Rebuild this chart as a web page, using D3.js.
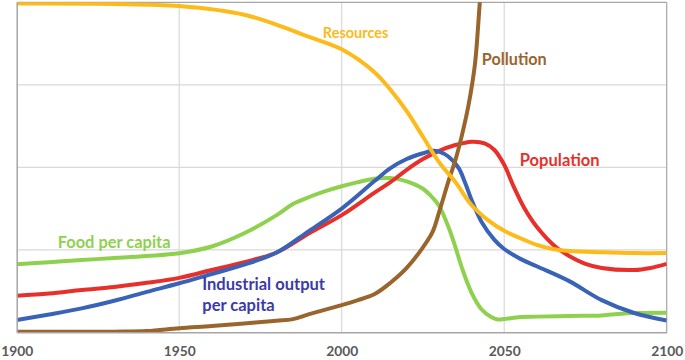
<!DOCTYPE html>
<html>
<head>
<meta charset="utf-8">
<script src="https://cdn.jsdelivr.net/npm/d3@7"></script>
<style>
  html, body { margin: 0; padding: 0; background: #fff; }
  svg { display: block; }
  text { font-family: Lato, "Open Sans", sans-serif; font-weight: bold; }
</style>
</head>
<body>
<svg id="chart" width="685" height="360"></svg>
<script>
// ---- data ----
const xTicks = [1900, 1950, 2000, 2050, 2100];
const yGrid = [0, 1, 2, 3, 4];

const resources = [
  [1900, 3.985], [1930, 3.98], [1950, 3.955], [1970, 3.85], [1982, 3.70],
  [1990, 3.58], [2000, 3.43], [2010, 3.155], [2015, 2.94], [2020, 2.68],
  [2025, 2.37], [2030, 2.06], [2035, 1.82], [2040, 1.54], [2045, 1.36],
  [2050, 1.23], [2055, 1.14], [2060, 1.06], [2065, 1.01], [2070, 0.985],
  [2080, 0.97], [2090, 0.96], [2100, 0.96]
];
const pollution = [
  [1900, 0.007], [1930, 0.008], [1940, 0.015], [1950, 0.05], [1960, 0.076], [1970, 0.107],
  [1980, 0.14], [1985, 0.16], [1990, 0.22], [2000, 0.33], [2005, 0.39],
  [2010, 0.46], [2015, 0.60], [2020, 0.78], [2025, 1.03], [2028, 1.22],
  [2030, 1.46], [2033, 1.85], [2035, 2.09], [2037, 2.39], [2039, 2.75],
  [2041, 3.25], [2042.5, 4.0], [2044, 4.7]
];
const population = [
  [1900, 0.444], [1910, 0.47], [1920, 0.513], [1930, 0.55], [1940, 0.60],
  [1950, 0.66], [1960, 0.755], [1970, 0.85], [1980, 0.967], [1990, 1.20],
  [2000, 1.42], [2010, 1.69], [2015, 1.82], [2020, 1.97], [2025, 2.10],
  [2030, 2.20], [2035, 2.27], [2040, 2.31], [2044, 2.29], [2047, 2.21],
  [2050, 2.03], [2053, 1.76], [2056, 1.52], [2060, 1.28], [2066, 1.03],
  [2070, 0.925], [2075, 0.83], [2080, 0.78], [2090, 0.755], [2095, 0.78],
  [2100, 0.83]
];
const industrial = [
  [1900, 0.149], [1910, 0.216], [1920, 0.29], [1930, 0.383], [1940, 0.49],
  [1950, 0.594], [1960, 0.707], [1970, 0.82], [1980, 0.967], [1990, 1.23],
  [2000, 1.50], [2010, 1.83], [2015, 1.99], [2020, 2.10], [2025, 2.17],
  [2028, 2.20], [2030, 2.19], [2033, 2.125], [2036, 1.99], [2038, 1.81],
  [2040, 1.60], [2043, 1.34], [2047, 1.12], [2050, 1.01], [2055, 0.89],
  [2060, 0.80], [2070, 0.62], [2080, 0.39], [2090, 0.234], [2100, 0.143]
];
const food = [
  [1900, 0.824], [1910, 0.85], [1920, 0.876], [1930, 0.90], [1940, 0.925],
  [1950, 0.958], [1960, 1.04], [1970, 1.20], [1980, 1.42], [1985, 1.555],
  [1990, 1.64], [1995, 1.71], [2000, 1.77], [2005, 1.82], [2010, 1.86],
  [2015, 1.87], [2020, 1.83], [2025, 1.74], [2028, 1.63], [2030, 1.53],
  [2033, 1.26], [2035, 1.03], [2037, 0.78], [2040, 0.476], [2043, 0.28],
  [2046, 0.185], [2048, 0.155], [2050, 0.16], [2055, 0.185], [2060, 0.19],
  [2070, 0.198], [2080, 0.204], [2085, 0.222], [2090, 0.234], [2100, 0.238]
];

const seriesNames = ["Food per capita", "Population", "Industrial output per capita", "Pollution", "Resources"];
const seriesData = [food, population, industrial, pollution, resources];
const seriesColors = ["#8fd14f", "#e8302a", "#3a63b8", "#9a652c", "#fcbb1a"];

// labels
const labelTexts = [["Resources"], ["Pollution"], ["Population"], ["Food per capita"], ["Industrial output", "per capita"]];
const labelYears = [1994.2, 2043.1, 2054.8, 1912.6, 1957.1];
const labelValues = [3.636, 3.32, 2.085, 1.099, 0.585];
const labelColors = ["#fcbb1a", "#9a652c", "#e8302a", "#8fd14f", "#3b3ba6"];
// approximate widths of the first line of each label in the reference, px
const labelWidths = [65.6, 65, 80, 113, 124];

// ---- layout ----
const svg = d3.select("#chart");
const pL = 16.7, pR = 666.7, pT = 2.3, pB = 332.3;

const x = d3.scaleLinear().domain([1900, 2100]).range([pL, pR]);
const y = d3.scaleLinear().domain([0, 4]).range([pB, pT]);

// grid
svg.append("g").selectAll("line").data(yGrid.slice(1, 4)).join("line")
  .attr("x1", pL).attr("x2", pR)
  .attr("y1", d => y(d)).attr("y2", d => y(d))
  .attr("stroke", "#d9d9d9").attr("stroke-width", 1.2);
svg.append("g").selectAll("line").data(xTicks.slice(1, 4)).join("line")
  .attr("x1", d => x(d)).attr("x2", d => x(d))
  .attr("y1", pT).attr("y2", pB)
  .attr("stroke", "#d9d9d9").attr("stroke-width", 1.2);

// border
svg.append("line").attr("x1", pL).attr("x2", pR).attr("y1", y(4)).attr("y2", y(4))
  .attr("stroke", "#a6a6a6").attr("stroke-width", 1.2);
svg.append("line").attr("x1", pR).attr("x2", pR).attr("y1", pT).attr("y2", pB)
  .attr("stroke", "#a6a6a6").attr("stroke-width", 1.2);

// clip
svg.append("clipPath").attr("id", "plotclip").append("rect")
  .attr("x", pL).attr("y", pT).attr("width", pR - pL).attr("height", pB - pT);

const line = d3.line().x(d => x(d[0])).y(d => y(d[1])).curve(d3.curveCatmullRom.alpha(0.5));

svg.append("g").attr("clip-path", "url(#plotclip)")
  .selectAll("path").data(seriesData).join("path")
  .attr("d", d => line(d))
  .attr("fill", "none")
  .attr("stroke", (d, i) => seriesColors[i])
  .attr("stroke-width", 4)
  .attr("stroke-linejoin", "round")
  .attr("stroke-linecap", "butt");

// axes
const xAxis = d3.axisBottom(x).tickValues(xTicks).tickSize(0).tickPadding(14).tickFormat(d3.format("d"));
const gx = svg.append("g").attr("transform", `translate(0,${pB})`).call(xAxis);
gx.select(".domain").attr("stroke", "#a6a6a6").attr("stroke-width", 1.5);
gx.selectAll("text").attr("fill", "#595959").style("font-size", "13.8px").style("font-weight", "bold");

const yAxis = d3.axisLeft(y).tickValues([]).tickSize(0);
const gy = svg.append("g").attr("transform", `translate(${pL},0)`).call(yAxis);
gy.select(".domain").attr("stroke", "#a6a6a6").attr("stroke-width", 1.5);

// labels
labelTexts.forEach((lines, i) => {
  const t = svg.append("text")
    .attr("x", x(labelYears[i]))
    .attr("y", y(labelValues[i]))
    .attr("fill", labelColors[i])
    .style("font-size", "14.5px")
    .attr("dominant-baseline", "central");
  const tspans = lines.map((s, j) =>
    t.append("tspan").attr("x", x(labelYears[i])).attr("dy", j === 0 ? 0 : 21).text(s));
  // fit font size so the first line matches the reference width
  const w = tspans[0].node().getComputedTextLength();
  if (w > 0) {
    const fs = Math.max(13.5, Math.min(16.5, 14.5 * labelWidths[i] / w));
    t.style("font-size", fs + "px");
  }
});
</script>
</body>
</html>
